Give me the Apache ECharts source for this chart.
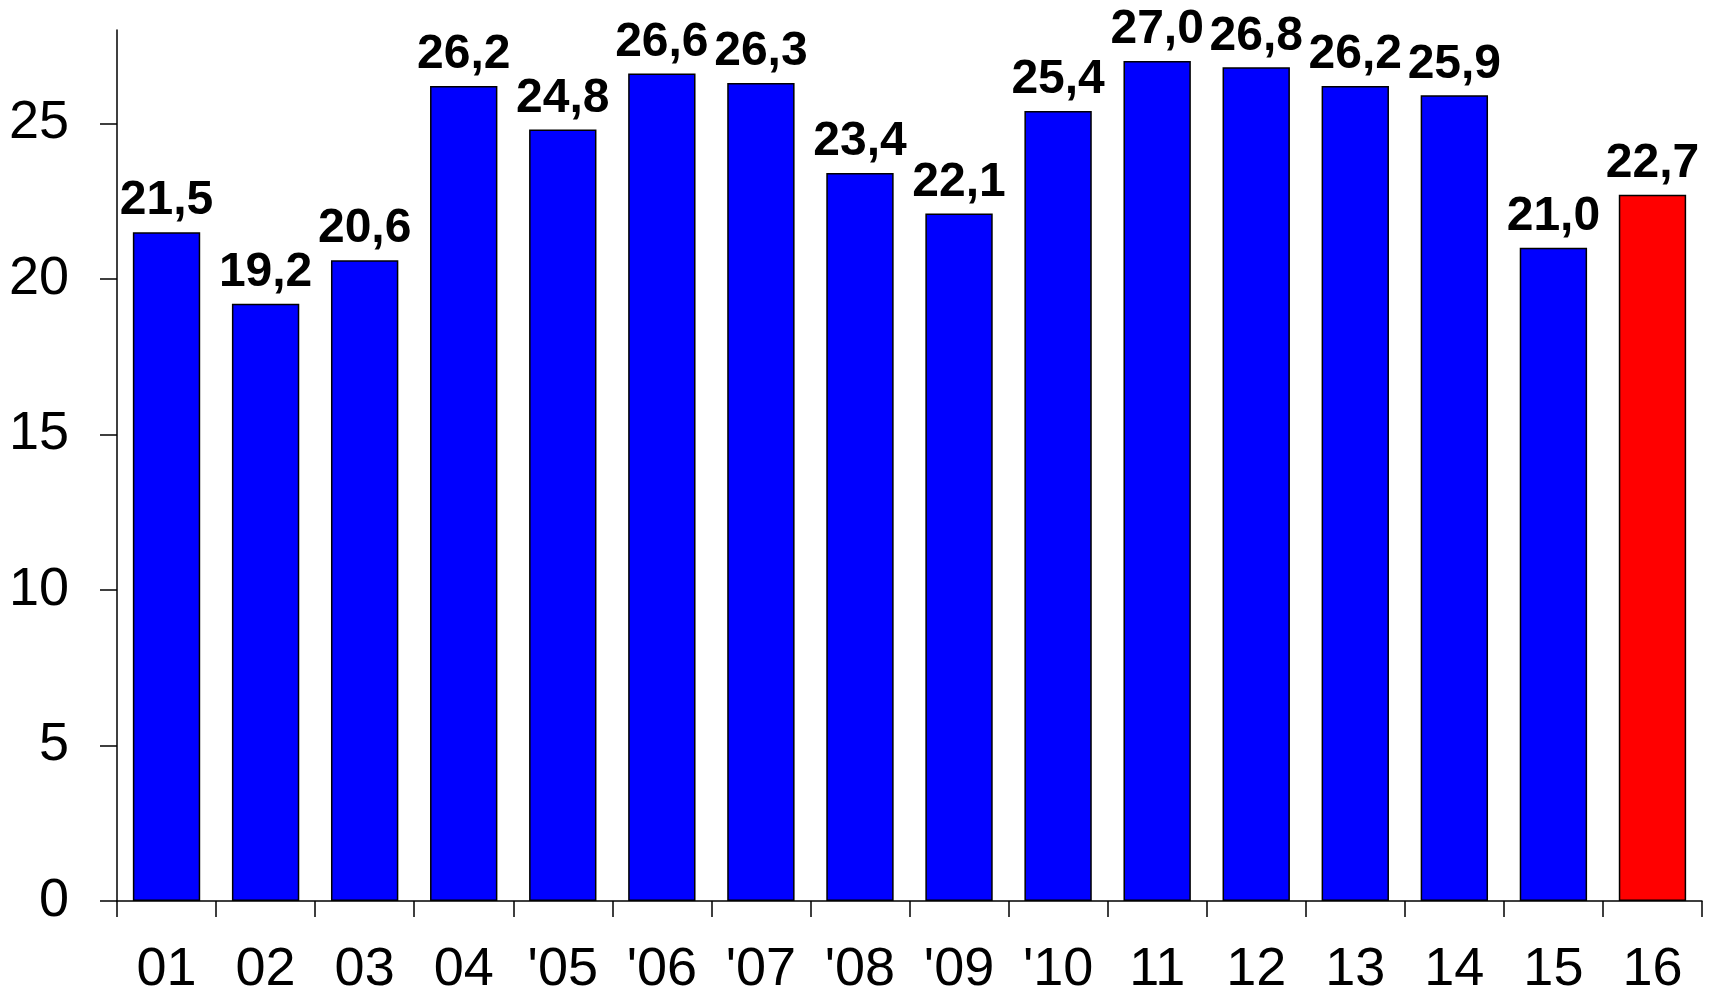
<!DOCTYPE html>
<html>
<head>
<meta charset="utf-8">
<script src="https://cdn.jsdelivr.net/npm/echarts@6/dist/echarts.min.js"></script>
<style>html,body{margin:0;padding:0;background:#fff}#c{width:1717px;height:997px}</style>
</head>
<body>
<div id="c"></div>
<script>
const categories = ["01","02","03","04","'05","'06","'07","'08","'09","'10","11","12","13","14","15","16"];
const values = [21.5,19.2,20.6,26.2,24.8,26.6,26.3,23.4,22.1,25.4,27.0,26.8,26.2,25.9,21.0,22.7];
const yTicks = [0,5,10,15,20,25];
const highlightIndex = 15;

const chart = echarts.init(document.getElementById('c'), null, {renderer: 'canvas'});
chart.setOption({
  animation: false,
  backgroundColor: '#fff',
  grid: {left: 117, right: 15, top: 30, bottom: 93},
  xAxis: {
    type: 'category',
    data: categories,
    axisLine: {lineStyle: {color: '#000', width: 1.5}},
    axisTick: {show: true, length: 16, lineStyle: {color: '#000', width: 1.5}},
    axisLabel: {color: '#000', fontSize: 54, fontFamily: 'Liberation Sans, Arial, sans-serif', margin: 42}
  },
  yAxis: {
    type: 'value',
    min: 0, max: 28, interval: 5,
    splitLine: {show: false},
    axisLine: {show: true, lineStyle: {color: '#000', width: 1.5}},
    axisTick: {show: true, length: 17, customValues: yTicks, lineStyle: {color: '#000', width: 1.5}},
    axisLabel: {color: '#000', fontSize: 54, fontFamily: 'Liberation Sans, Arial, sans-serif', margin: 48, customValues: yTicks}
  },
  series: [{
    type: 'bar',
    data: values.map((v, i) => ({
      value: v,
      itemStyle: {color: i === highlightIndex ? '#FF0000' : '#0000FF'}
    })),
    barCategoryGap: '32%',
    itemStyle: {borderColor: '#000', borderWidth: 1.5},
    label: {
      show: true, position: 'top', distance: 7,
      color: '#000', fontSize: 48, fontWeight: 'bold',
      fontFamily: 'Liberation Sans, Arial, sans-serif',
      formatter: p => p.value.toFixed(1).replace('.', ',')
    }
  }]
});
</script>
</body>
</html>
